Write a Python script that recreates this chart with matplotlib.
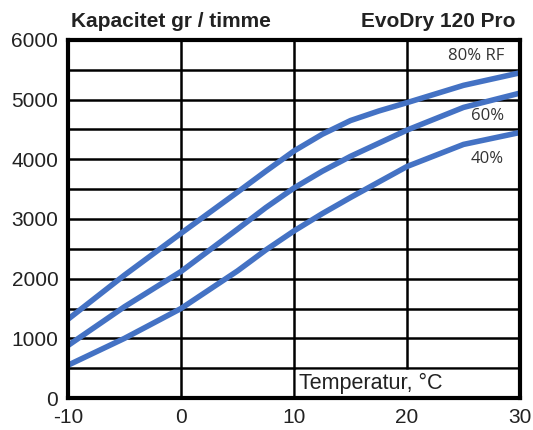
#!/usr/bin/env python3
# -*- coding: utf-8 -*-

import numpy as np
import matplotlib as mpl
import matplotlib.pyplot as plt

mpl.rcParams['font.family'] = ['Liberation Sans', 'DejaVu Sans']
mpl.rcParams['axes.unicode_minus'] = False

temps = [-10, -5, 0, 5, 7.5, 10, 12.5, 15, 17.5, 20, 25, 30]
rf80 = [1320, 2060, 2760, 3450, 3800, 4140, 4420, 4650, 4810, 4950, 5240, 5450]
rf60 = [880, 1530, 2120, 2830, 3190, 3520, 3800, 4050, 4270, 4490, 4870, 5110]
rf40 = [550, 1000, 1500, 2130, 2480, 2800, 3090, 3360, 3620, 3880, 4250, 4450]
curve_labels = ['80% RF', '60%', '40%']

BLUE = '#4472c4'


def main() -> None:
    fig = plt.figure(figsize=(5.33, 4.30), dpi=100)
    ax = fig.add_axes([0.1276, 0.0744, 0.848, 0.8326])

    for y in np.arange(500, 6000, 500):
        ax.axhline(y, color='black', lw=1.8, zorder=1)
    for x in [0, 10, 20]:
        ax.axvline(x, color='black', lw=1.8, zorder=1)

    for vals in [rf80, rf60, rf40]:
        ax.plot(temps, vals, color=BLUE, lw=4, solid_capstyle='butt', zorder=3)

    lab_kw = dict(family=['Open Sans', 'DejaVu Sans'], fontsize=12,
                  color='#333333', ha='right', va='center', zorder=2.5)
    ax.text(28.6, 5730, curve_labels[0], **lab_kw)
    ax.text(28.6, 4730, curve_labels[1], **lab_kw)
    # the 4000 gridline is blanked out right of 20 behind the 40% label
    ax.fill_between([20.15, 29.8], 3920, 4080, color='white', zorder=2)
    ax.text(28.6, 4000, curve_labels[2], **lab_kw)

    # white box behind the axis title in the lower right cell row
    ax.fill_between([10.15, 29.8], 30, 470, color='white', zorder=2)
    ax.text(10.4, 250, 'Temperatur, °C', fontsize=15.5, ha='left',
            va='center', color='#222222', zorder=4)

    ax.set_xlim(-10, 30)
    ax.set_ylim(0, 6000)
    ax.set_xticks([-10, 0, 10, 20, 30])
    ax.set_yticks(range(0, 6001, 1000))
    ax.tick_params(length=0, labelsize=15, pad=7, colors='#222222')
    for s in ax.spines.values():
        s.set_linewidth(3)
        s.set_zorder(5)

    fig.text(0.133, 0.951, 'Kapacitet gr / timme', fontsize=15,
             fontweight='bold', ha='left', va='center', color='#222222')
    fig.text(0.968, 0.951, 'EvoDry 120 Pro', fontsize=15,
             fontweight='bold', ha='right', va='center', color='#222222')

    fig.savefig('out.png', dpi=100, facecolor='white')


if __name__ == '__main__':
    main()
